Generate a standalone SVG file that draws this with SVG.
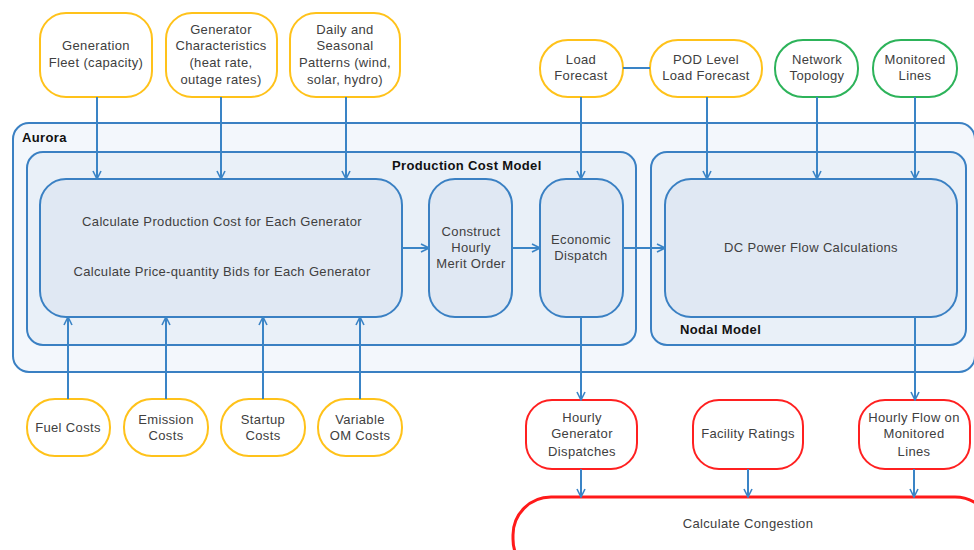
<svg xmlns="http://www.w3.org/2000/svg" width="974" height="550" viewBox="0 0 974 550">
<style>
text{font-family:"Liberation Sans",Arial,sans-serif;font-size:13px;letter-spacing:0.35px;fill:#404040;text-anchor:middle}
.b{font-weight:bold;fill:#111;text-anchor:start}
.in{fill:#fff;stroke:#ffc21a;stroke-width:2}
.gr{fill:#fff;stroke:#2db35a;stroke-width:2}
.rd{fill:#fff;stroke:#ff2020;stroke-width:2}
.cont{stroke:#3a80c3;stroke-width:2}
.proc{fill:#e0e8f3;stroke:#3a80c3;stroke-width:2}
.ln{stroke:#3a84c6;stroke-width:2;fill:none}
.ar{marker-end:url(#ah)}
</style>
<defs>
<marker id="ah" viewBox="0 0 10 10" refX="9" refY="5" markerWidth="10" markerHeight="10" markerUnits="userSpaceOnUse" orient="auto">
<path d="M1,1 L9,5 L1,9" fill="none" stroke="#3a84c6" stroke-width="1.6"/>
</marker>
</defs>

<g id="aurora">
<rect class="cont" x="13" y="123" width="962" height="249" rx="16" fill="#f3f7fc"/>
<text class="b" x="22" y="142" font-size="12">Aurora</text>
</g>
<g id="production-cost-model">
<rect class="cont" x="27" y="152" width="609" height="193" rx="16" fill="#e9f0f8"/>
<text class="b" x="392" y="170">Production Cost Model</text>
</g>
<g id="nodal-model">
<rect class="cont" x="651" y="152" width="315" height="193" rx="16" fill="#e9f0f8"/>
<text class="b" x="680" y="334">Nodal Model</text>
</g>

<g id="calc-generator">
<rect class="proc" x="40" y="179" width="362" height="138" rx="26"/>
<text x="222" y="226">Calculate Production Cost for Each Generator</text>
<text x="222" y="276">Calculate Price-quantity Bids for Each Generator</text>
</g>
<g id="merit-order">
<rect class="proc" x="429" y="179" width="83" height="138" rx="26"/>
<text x="471" y="236">Construct</text>
<text x="471" y="252">Hourly</text>
<text x="471" y="268">Merit Order</text>
</g>
<g id="economic-dispatch">
<rect class="proc" x="540" y="179" width="83" height="138" rx="26"/>
<text x="581" y="244">Economic</text>
<text x="581" y="260">Dispatch</text>
</g>
<g id="dc-power-flow">
<rect class="proc" x="665" y="179" width="292" height="138" rx="26"/>
<text x="811" y="252">DC Power Flow Calculations</text>
</g>

<g id="generation-fleet">
<rect class="in" x="40" y="13" width="112" height="84" rx="26"/>
<text x="96" y="50">Generation</text>
<text x="96" y="67">Fleet (capacity)</text>
</g>
<g id="generator-characteristics">
<rect class="in" x="166" y="13" width="111" height="84" rx="26"/>
<text x="221" y="34">Generator</text>
<text x="221" y="50">Characteristics</text>
<text x="221" y="67">(heat rate,</text>
<text x="221" y="84">outage rates)</text>
</g>
<g id="daily-seasonal">
<rect class="in" x="290" y="13" width="110" height="84" rx="26"/>
<text x="345" y="34">Daily and</text>
<text x="345" y="50">Seasonal</text>
<text x="345" y="67">Patterns (wind,</text>
<text x="345" y="84">solar, hydro)</text>
</g>
<g id="load-forecast">
<rect class="in" x="540" y="40" width="83" height="57" rx="28"/>
<text x="581" y="64">Load</text>
<text x="581" y="80">Forecast</text>
</g>
<g id="pod-load-forecast">
<rect class="in" x="650" y="40" width="112" height="57" rx="28"/>
<text x="706" y="64">POD Level</text>
<text x="706" y="80">Load Forecast</text>
</g>
<g id="network-topology">
<rect class="gr" x="775" y="40" width="83" height="57" rx="28"/>
<text x="817" y="64">Network</text>
<text x="817" y="80">Topology</text>
</g>
<g id="monitored-lines">
<rect class="gr" x="873" y="40" width="84" height="57" rx="28"/>
<text x="915" y="64">Monitored</text>
<text x="915" y="80">Lines</text>
</g>

<g id="fuel-costs">
<rect class="in" x="27" y="399" width="83" height="57" rx="28"/>
<text x="68" y="432">Fuel Costs</text>
</g>
<g id="emission-costs">
<rect class="in" x="124" y="399" width="84" height="57" rx="28"/>
<text x="166" y="424">Emission</text>
<text x="166" y="440">Costs</text>
</g>
<g id="startup-costs">
<rect class="in" x="221" y="399" width="84" height="57" rx="28"/>
<text x="263" y="424">Startup</text>
<text x="263" y="440">Costs</text>
</g>
<g id="variable-om-costs">
<rect class="in" x="318" y="399" width="84" height="57" rx="28"/>
<text x="360" y="424">Variable</text>
<text x="360" y="440">OM Costs</text>
</g>

<g id="hourly-generator-dispatches">
<rect class="rd" x="526" y="400" width="111" height="69" rx="26"/>
<text x="582" y="422">Hourly</text>
<text x="582" y="438">Generator</text>
<text x="582" y="456">Dispatches</text>
</g>
<g id="facility-ratings">
<rect class="rd" x="693" y="400" width="110" height="69" rx="26"/>
<text x="748" y="438">Facility Ratings</text>
</g>
<g id="hourly-flow">
<rect class="rd" x="859" y="400" width="111" height="69" rx="26"/>
<text x="914" y="422">Hourly Flow on</text>
<text x="914" y="438">Monitored</text>
<text x="914" y="456">Lines</text>
</g>
<g id="calculate-congestion">
<rect x="513" y="497" width="480" height="80" rx="38" fill="#fff" stroke="#ff1a1a" stroke-width="3"/>
<text x="748" y="528">Calculate Congestion</text>
</g>

<g id="connectors">
<path class="ln ar" d="M97,97 V179"/>
<path class="ln ar" d="M221,97 V179"/>
<path class="ln ar" d="M346,97 V179"/>
<path class="ln" d="M623,68 H650"/>
<path class="ln ar" d="M581,97 V179"/>
<path class="ln ar" d="M707,97 V179"/>
<path class="ln ar" d="M817,97 V179"/>
<path class="ln ar" d="M915,97 V179"/>
<path class="ln ar" d="M68,399 V317"/>
<path class="ln ar" d="M166,399 V317"/>
<path class="ln ar" d="M263,399 V317"/>
<path class="ln ar" d="M360,399 V317"/>
<path class="ln ar" d="M402,248 H429"/>
<path class="ln ar" d="M512,248 H540"/>
<path class="ln ar" d="M623,248 H665"/>
<path class="ln ar" d="M581,317 V400"/>
<path class="ln ar" d="M915,317 V400"/>
<path class="ln ar" d="M581,469 V497"/>
<path class="ln ar" d="M748,469 V497"/>
<path class="ln ar" d="M914,469 V497"/>
</g>
</svg>
